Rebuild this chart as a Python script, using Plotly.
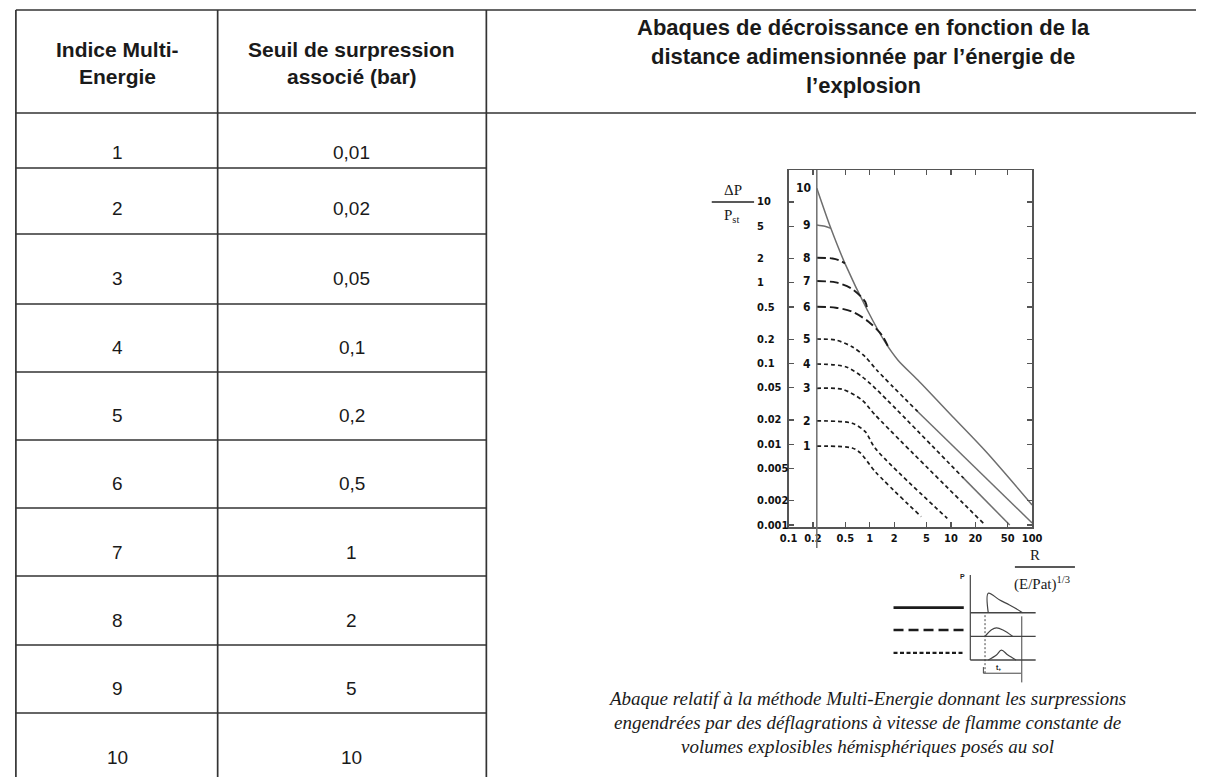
import numpy as np
import plotly.graph_objects as go

W, H = 1206, 777

# ---------------- table data ----------------
indices = ["1", "2", "3", "4", "5", "6", "7", "8", "9", "10"]
seuils = ["0,01", "0,02", "0,05", "0,1", "0,2", "0,5", "1", "2", "5", "10"]
head_col1 = ["Indice Multi-", "Energie"]
head_col2 = ["Seuil de surpression", "associé (bar)"]
head_col3 = ["Abaques de décroissance en fonction de la",
             "distance adimensionnée par l’énergie de",
             "l’explosion"]
caption = ["Abaque relatif à la méthode Multi-Energie donnant les surpressions",
           "engendrées par des déflagrations à vitesse de flamme constante de",
           "volumes explosibles hémisphériques posés au sol"]

# ---------------- abacus data (R scaled, dP/P) ----------------
R0 = 0.223  # scaled charge radius (inner vertical line)
c10_x = [0.223, 0.332, 0.495, 0.933, 1.54, 2.23, 3.91, 10.9, 27.3, 100]
c10_y = [14.8, 4.72, 1.74, 0.46, 0.185, 0.11, 0.0625, 0.0211, 0.0080, 0.00177]
c9_x = [0.223, 0.28, 0.332]
c9_y = [5.2, 5.0, 4.72]
c8_x = [0.223, 0.348, 0.42, 0.495]
c8_y = [2.04, 2.0, 1.9, 1.74]
c7_x = [0.223, 0.382, 0.608, 0.881, 0.933]
c7_y = [1.05, 1.01, 0.838, 0.582, 0.46]
c6_x = [0.223, 0.382, 0.608, 0.967, 1.41, 1.67]
c6_y = [0.505, 0.491, 0.438, 0.33, 0.225, 0.165]
c5_dash_x = [0.223, 0.382, 0.608, 0.881, 1.22, 3.91]
c5_dash_y = [0.201, 0.195, 0.161, 0.121, 0.083, 0.0253]
c5_solid_x = [3.91, 100]
c5_solid_y = [0.0253, 0.00106]
c4_dash_x = [0.223, 0.505, 0.804, 1.17, 14.4]
c4_dash_y = [0.0986, 0.0912, 0.0687, 0.0493, 0.00378]
c4_solid_x = [14.4, 53]
c4_solid_y = [0.00378, 0.001]
c3_x = [0.223, 0.46, 0.804, 1.17, 25.1]
c3_y = [0.0493, 0.0479, 0.0353, 0.0230, 0.00105]
c2_x = [0.223, 0.608, 0.881, 1.17, 9.02]
c2_y = [0.0195, 0.0182, 0.0143, 0.0089, 0.00121]
c1_x = [0.223, 0.608, 0.767, 1.17, 4.30]
c1_y = [0.0095, 0.0090, 0.0078, 0.00457, 0.00127]

curve_labels = ["1", "2", "3", "4", "5", "6", "7", "8", "9", "10"]
curve_label_y = [c1_y[0], c2_y[0], c3_y[0], c4_dash_y[0], c5_dash_y[0],
                 c6_y[0], c7_y[0], c8_y[0], c9_y[0], c10_y[0]]

xtick_vals = [0.1, 0.2, 0.5, 1, 2, 5, 10, 20, 50, 100]
xtick_text = ["0.1", "0.2", "0.5", "1", "2", "5", "10", "20", "50", "100"]
ytick_vals = [10, 5, 2, 1, 0.5, 0.2, 0.1, 0.05, 0.02, 0.01, 0.005, 0.002, 0.001]
ytick_text = ["10", "5", "2", "1", "0.5", "0.2", "0.1", "0.05", "0.02", "0.01",
              "0.005", "0.002", "0.001"]

# ---------------- pulse sketch data (time t, pressure p) ----------------
paxis_t = [0, 0]
paxis_p = [0, 3.6]
base_t = [0, 4.0]
base_levels = [2, 1, 0]
sample_t = [-4.7, -0.4]
sample_p = [2.22, 1.27, 0.30]
shock_t = [1.1, 1.1, 1.8, 2.4, 3.1, 3.2]
shock_p = [2.0, 2.83, 2.54, 2.33, 2.05, 2.0]
wave2_t = [0.9, 1.3, 1.6, 2.0, 2.6]
wave2_p = [1.0, 1.28, 1.36, 1.27, 1.0]
wave3_t = [1.1, 1.6, 1.9, 2.3, 2.8]
wave3_p = [0.0, 0.21, 0.42, 0.21, 0.0]
vline1_t, vline1_p = [0.9, 0.9], [1.9, -0.55]
vline2_t, vline2_p = [3.15, 3.15], [1.85, -0.95]
bracket_t = [0.8, 0.8, 3.1]
bracket_p = [-0.3, -0.56, -0.56]


def px(x):
    return x / W


def py(y):
    return 1 - y / H


NARROW = "Liberation Sans Narrow, DejaVu Sans Condensed, Arial Narrow, sans-serif"
SANS = "Liberation Sans, Arial, sans-serif"
SERIF = "Liberation Serif, Times New Roman, serif"

fig = go.Figure()

GRAY = "#6e6e6e"
BLACK = "#1c1c1c"


def add_curve(x, y, dash, color, width):
    fig.add_trace(go.Scatter(x=x, y=y, mode="lines",
                             line=dict(color=color, width=width, dash=dash,
                                       shape="spline", smoothing=0.8),
                             hoverinfo="skip", showlegend=False))


SHORT = "4px,3px"
LONG = "9px,4px"
add_curve(c10_x, c10_y, "solid", GRAY, 1.5)
add_curve(c9_x, c9_y, "solid", GRAY, 1.5)
add_curve(c8_x, c8_y, LONG, BLACK, 1.9)
add_curve(c7_x, c7_y, LONG, BLACK, 1.9)
add_curve(c6_x, c6_y, LONG, BLACK, 1.9)
add_curve(c5_dash_x, c5_dash_y, SHORT, BLACK, 1.7)
add_curve(c5_solid_x, c5_solid_y, "solid", GRAY, 1.5)
add_curve(c4_dash_x, c4_dash_y, SHORT, BLACK, 1.7)
add_curve(c4_solid_x, c4_solid_y, "solid", GRAY, 1.5)
add_curve(c3_x, c3_y, SHORT, BLACK, 1.7)
add_curve(c2_x, c2_y, SHORT, BLACK, 1.7)
add_curve(c1_x, c1_y, SHORT, BLACK, 1.7)


# pulse inset traces
def add_inset(t, p, dash="solid", color=BLACK, width=1.2, shape="linear"):
    fig.add_trace(go.Scatter(x=t, y=p, xaxis="x2", yaxis="y2", mode="lines",
                             line=dict(color=color, width=width, dash=dash, shape=shape),
                             hoverinfo="skip", showlegend=False))


add_inset(paxis_t, paxis_p, color="#444", width=1.2)
for lv in base_levels:
    add_inset(base_t, [lv, lv], color="#444", width=1.4)
add_inset(sample_t, [sample_p[0]] * 2, "solid", BLACK, 2.6)
add_inset(sample_t, [sample_p[1]] * 2, "10px,5px", BLACK, 2.4)
add_inset(sample_t, [sample_p[2]] * 2, "4px,2.5px", BLACK, 2.2)
add_inset(shock_t, shock_p, color="#444", width=1.2, shape="spline")
add_inset(wave2_t, wave2_p, color="#444", width=1.2, shape="spline")
add_inset(wave3_t, wave3_p, color="#444", width=1.2, shape="spline")
add_inset(vline1_t, vline1_p, "2px,2px", "#444", 1.0)
add_inset(vline2_t, vline2_p, "solid", "#444", 1.0)
add_inset(bracket_t, bracket_p, "solid", "#444", 1.0)

# ---------------- shapes ----------------
shapes = []
LC = "#333333"


def hline(x0, x1, y, w=1.7, c=LC):
    shapes.append(dict(type="line", xref="paper", yref="paper",
                       x0=px(x0), x1=px(x1), y0=py(y), y1=py(y),
                       line=dict(color=c, width=w)))


def vline(x, y0, y1, w=1.7, c=LC):
    shapes.append(dict(type="line", xref="paper", yref="paper",
                       x0=px(x), x1=px(x), y0=py(y0), y1=py(y1),
                       line=dict(color=c, width=w)))


hline(7, 1206, 10)
hline(7, 1206, 113)
vline(7, 10, 777)
vline(212, 10, 777)
vline(485, 10, 777)
row_lines = [168, 234, 304, 372, 440, 508, 576, 645, 713]
for yl in row_lines:
    hline(7, 485, yl)

# inner vertical line at R0
shapes.append(dict(type="line", xref="x", yref="paper", x0=R0, x1=R0,
                   y0=py(548), y1=py(170), line=dict(color=GRAY, width=1.5)))
# fraction bars
hline(714, 757, 202, 1.3, "#222")
hline(1022, 1083, 567, 1.3, "#222")

# ---------------- annotations ----------------
ann = []


def text(x, y, s, size, family=SANS, weight="normal", style="normal",
         xanchor="center", color="#1a1a1a", xref="paper", yref="paper"):
    ann.append(dict(x=px(x) if xref == "paper" else x,
                    y=py(y) if yref == "paper" else y,
                    xref=xref, yref=yref, text=s, showarrow=False,
                    xanchor=xanchor, yanchor="middle",
                    font=dict(family=family, size=size, color=color,
                              weight=weight, style=style)))


for s, yy in zip(head_col1, [49, 77]):
    text(110, yy, s, 21, weight="bold")
for s, yy in zip(head_col2, [49, 77]):
    text(348, yy, s, 21, weight="bold")
for s, yy in zip(head_col3, [28, 56, 85]):
    text(868, yy, s, 22, weight="bold")

row_centers = [152, 209, 279, 347, 415, 483, 552, 620, 688, 757]
for i, (a, b) in enumerate(zip(indices, seuils)):
    text(110, row_centers[i], a, 19)
    text(348, row_centers[i], b, 19)

for s, yy in zip(caption, [698, 722, 746]):
    text(872, yy, s, 19, family=SERIF, style="italic")

# y tick labels (left aligned, as in the abacus)
for v, t in zip(ytick_vals, ytick_text):
    ann.append(dict(x=px(758), xref="paper", y=np.log10(v), yref="y", text=t,
                    showarrow=False, xanchor="left", yanchor="middle",
                    font=dict(family=NARROW, size=11, color="#111", weight="bold")))
# curve labels
for lab, v in zip(curve_labels, curve_label_y):
    ann.append(dict(x=px(817), xref="paper", y=np.log10(v), yref="y", text=lab,
                    showarrow=False, xanchor="right", yanchor="middle",
                    font=dict(family=NARROW, size=12, color="#111", weight="bold")))

# axis titles
text(736, 190, "ΔP", 15, family=SERIF)
text(734, 216, "P<sub>st</sub>", 15, family=SERIF)
text(1042, 555, "R", 15, family=SERIF)
text(1050, 583, "(E/Pat)<sup>1/3</sup>", 15, family=SERIF)

# inset labels
ann.append(dict(x=-0.46, y=3.52, xref="x2", yref="y2", text="P", showarrow=False,
                font=dict(family=SANS, size=7, color="#222", weight="bold")))
ann.append(dict(x=1.7, y=-0.33, xref="x2", yref="y2", text="t<sub>+</sub>", showarrow=False,
                font=dict(family=SANS, size=7, color="#222", weight="bold")))

axis_common = dict(showline=True, linecolor="#555", linewidth=1.5, mirror="ticks",
                   ticks="inside", ticklen=5, tickcolor="#555", tickwidth=1.3,
                   showgrid=False, zeroline=False)

fig.update_layout(
    width=W, height=H,
    margin=dict(l=0, r=0, t=0, b=0),
    paper_bgcolor="white", plot_bgcolor="white",
    showlegend=False,
    shapes=shapes,
    annotations=ann,
    xaxis=dict(type="log", range=[-1, 2], domain=[px(792), px(1039.5)],
               tickvals=xtick_vals, ticktext=xtick_text, tickangle=0,
               tickfont=dict(family=NARROW, size=11, color="#111", weight="bold"),
               anchor="y", **axis_common),
    yaxis=dict(type="log", range=[1 - 325 / 80.75, 1 + 32 / 80.75],
               domain=[py(527), py(170)], tickvals=ytick_vals,
               showticklabels=False, anchor="x", **axis_common),
    xaxis2=dict(domain=[px(890), px(1050)], range=[-5.223, 4.416], visible=False,
                anchor="y2", fixedrange=True),
    yaxis2=dict(domain=[py(690), py(570)], range=[-1.271, 3.814], visible=False,
                anchor="x2", fixedrange=True),
)

fig.write_html("out.html",
               config={"displayModeBar": False, "staticPlot": True},
               post_script="document.body.style.margin='0';"
                           "document.body.style.overflow='hidden';")
